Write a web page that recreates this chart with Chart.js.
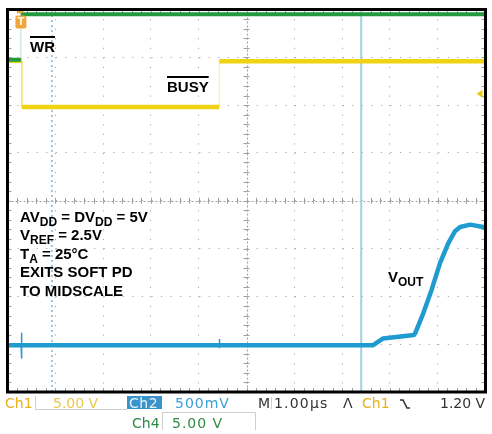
<!DOCTYPE html>
<html>
<head>
<meta charset="utf-8">
<script src="https://cdn.jsdelivr.net/npm/chart.js@4.4.1/dist/chart.umd.min.js"></script>
<style>
html, body { margin: 0; padding: 0; background: #fff; }
#wrap { position: relative; width: 492px; height: 434px; overflow: hidden; }
#scope { position: absolute; left: 0; top: 0; }
.lbl { position: absolute; font-family: "Liberation Sans", Arial, sans-serif; font-weight: bold; font-size: 15px; line-height: 18.5px; color: #000; white-space: nowrap; }
.lbl sub { font-size: 12px; line-height: 0; vertical-align: -4px; }
.ovl { text-decoration: overline; text-decoration-thickness: 1.5px; }
.bar { position: absolute; font-family: "DejaVu Sans", sans-serif; font-size: 14px; line-height: 14px; white-space: nowrap; }
.rule { position: absolute; background: #cfcfcf; }
</style>
</head>
<body>
<div id="wrap">
  <canvas id="scope" width="492" height="434"></canvas>

  <div class="lbl" style="left:30px;top:38px"><span class="ovl">WR</span></div>
  <div class="lbl" style="left:167px;top:78px"><span class="ovl">BUSY</span></div>
  <div class="lbl" style="left:20px;top:207.5px">
    AV<sub>DD</sub> = DV<sub>DD</sub> = 5V<br>
    V<sub>REF</sub> = 2.5V<br>
    T<sub>A</sub> = 25°C<br>
    EXITS SOFT PD<br>
    TO MIDSCALE
  </div>
  <div class="lbl" style="left:388px;top:268px">V<sub>OUT</sub></div>

  <!-- status bar -->
  <div class="rule" style="left:35px;top:396px;width:1px;height:13px"></div>
  <div class="rule" style="left:35px;top:409px;width:92px;height:1px"></div>
  <div class="rule" style="left:162px;top:412px;width:94px;height:1px"></div>
  <div class="rule" style="left:162px;top:412px;width:1px;height:18px"></div>
  <div class="rule" style="left:255px;top:412px;width:1px;height:18px"></div>
  <div class="rule" style="left:271px;top:397px;width:1px;height:12px"></div>

  <div class="bar" style="left:5px;top:396px;color:#e3b21c">Ch1</div>
  <div class="bar" style="left:53px;top:396px;color:#e9c850">5.00 V</div>
  <div style="position:absolute;left:127px;top:396px;width:35px;height:13px;background:#3a93cb"></div>
  <div class="bar" style="left:129px;top:396px;color:#e6f3fb;letter-spacing:0.5px">Ch2</div>
  <div class="bar" style="left:175px;top:396px;color:#3b9fd6;letter-spacing:1px">500mV</div>
  <div class="bar" style="left:258px;top:396px;color:#333">M</div>
  <div class="bar" style="left:274px;top:396px;color:#333;letter-spacing:1.2px">1.00µs</div>
  <div class="bar" style="left:343px;top:396px;color:#333">Λ</div>
  <div class="bar" style="left:362px;top:396px;color:#e3b21c">Ch1</div>
  <svg style="position:absolute;left:399px;top:398px" width="12" height="12"><path d="M1 2 H4 L8 10 H11" fill="none" stroke="#333" stroke-width="1.6"/></svg>
  <div class="bar" style="left:440px;top:396px;color:#333">1.20 V</div>
  <div class="bar" style="left:132px;top:416px;color:#2e8b44">Ch4</div>
  <div class="bar" style="left:172px;top:416px;color:#2e8b44;letter-spacing:1px">5.00 V</div>
</div>

<script>
// time in µs (1 µs/div), level in divisions (0 = bottom graticule line)
const ch4Time = [0, 0.28, 0.28, 10];
const ch4Level = [6.95, 6.95, 7.90, 7.90];

const ch1Time = [0, 0.30, 0.30, 4.43, 4.43, 10];
const ch1Level = [6.93, 6.93, 5.96, 5.96, 6.92, 6.92];

const ch2Time = [0, 0.285, 0.29, 0.295, 0.30, 4.425, 4.43, 4.435, 4.44, 7.65, 7.86, 8.50, 8.53, 8.70, 8.87, 9.05, 9.22, 9.36, 9.47, 9.68, 9.95, 10];
const ch2Level = [0.98, 0.98, 1.23, 0.71, 0.98, 0.98, 1.10, 0.93, 0.98, 0.98, 1.12, 1.19, 1.23, 1.65, 2.13, 2.70, 3.11, 3.36, 3.45, 3.50, 3.45, 3.45];

const cursorTime = 7.40;
const markerTime = 0.93;
const triggerTime = 0.27;
const ch1TrigLevel = 6.24;

function pts(t, v) { return t.map((x, i) => ({ x: x, y: v[i] })); }
function vLine(t) { return [{ x: t, y: 0 }, { x: t, y: 8 }]; }
const steep = ctx => Math.abs(ctx.p1.parsed.x - ctx.p0.parsed.x) < 0.008;
function edge(color, width) {
    return {
        borderColor: ctx => steep(ctx) && color ? color : undefined,
        borderWidth: ctx => steep(ctx) ? width : undefined
    };
}

const scopeDecor = {
    id: 'scopeDecor',
    beforeDatasetsDraw(chart) {
        const { ctx, chartArea: a, scales: { x, y } } = chart;
        const cx = x.getPixelForValue(5), cy = y.getPixelForValue(4);
        ctx.save();
        ctx.strokeStyle = '#a0a0a0';
        ctx.lineWidth = 1;
        // center crosshair
        ctx.setLineDash([2, 2]);
        ctx.beginPath();
        ctx.moveTo(a.left, Math.round(cy) + 0.5); ctx.lineTo(a.right, Math.round(cy) + 0.5);
        ctx.moveTo(Math.round(cx) + 0.5, a.top); ctx.lineTo(Math.round(cx) + 0.5, a.bottom);
        ctx.stroke();
        ctx.setLineDash([]);
        ctx.beginPath();
        for (let i = 1; i < 50; i++) {
            const px = Math.round(x.getPixelForValue(i * 0.2)) + 0.5;
            ctx.moveTo(px, cy - 3); ctx.lineTo(px, cy + 3);
            ctx.moveTo(px, a.top); ctx.lineTo(px, a.top + 4);
            ctx.moveTo(px, a.bottom); ctx.lineTo(px, a.bottom - 4);
        }
        for (let i = 1; i < 40; i++) {
            const py = Math.round(y.getPixelForValue(i * 0.2)) + 0.5;
            ctx.moveTo(cx - 3, py); ctx.lineTo(cx + 3, py);
            ctx.moveTo(a.left, py); ctx.lineTo(a.left + 4, py);
            ctx.moveTo(a.right, py); ctx.lineTo(a.right - 4, py);
        }
        ctx.stroke();
        ctx.restore();
    },
    afterDraw(chart) {
        const { ctx, chartArea: a, scales: { x, y } } = chart;
        ctx.save();
        // trigger position marker
        const tx = x.getPixelForValue(triggerTime);
        ctx.fillStyle = '#f0a63a';
        ctx.beginPath();
        ctx.moveTo(tx - 4, a.top + 1); ctx.lineTo(tx + 4, a.top + 1); ctx.lineTo(tx, a.top + 5);
        ctx.fill();
        ctx.beginPath();
        ctx.roundRect(tx - 5, a.top + 6, 11, 13, 2);
        ctx.fill();
        ctx.fillStyle = '#fff4e0';
        ctx.font = 'bold 10px "DejaVu Sans"';
        ctx.textAlign = 'center';
        ctx.textBaseline = 'middle';
        ctx.fillText('T', tx + 0.5, a.top + 13);
        // ch1 trigger level arrow
        const ly = y.getPixelForValue(ch1TrigLevel);
        ctx.fillStyle = '#e8cc10';
        ctx.beginPath();
        ctx.moveTo(a.right - 9, ly); ctx.lineTo(a.right - 3, ly - 4); ctx.lineTo(a.right - 3, ly + 4);
        ctx.fill();
        // frame
        ctx.strokeStyle = '#000';
        ctx.lineWidth = 3;
        ctx.strokeRect(a.left, a.top, a.right - a.left, a.bottom - a.top);
        ctx.restore();
    }
};

const axisOpts = (max) => ({
    type: 'linear',
    min: 0,
    max: max,
    ticks: { display: false, stepSize: 1 },
    grid: { color: '#a8a8a8', drawTicks: false, lineWidth: 1 },
    border: { display: false, dash: [1.2, 8.36] }
});

new Chart(document.getElementById('scope'), {
    type: 'line',
    data: {
        datasets: [
            { label: 'Ch2', data: pts(ch2Time, ch2Level), borderColor: '#1f9bd0', borderWidth: 4.5, segment: edge(null, 1.5) },
            { label: 'Ch4', data: pts(ch4Time, ch4Level), borderColor: '#22993f', borderWidth: 4, segment: edge('rgba(34,153,63,0.3)', 1) },
            { label: 'Ch1', data: pts(ch1Time, ch1Level), borderColor: '#f0d414', borderWidth: 4.5, segment: edge('rgba(240,212,20,0.45)', 1) },
            { label: 'cursor', data: vLine(cursorTime), borderColor: '#9fd0e6', borderWidth: 2 },
            { label: 'marker', data: vLine(markerTime), borderColor: '#7ab6df', borderWidth: 1.5, borderDash: [2, 3] }
        ]
    },
    options: {
        responsive: false,
        animation: false,
        devicePixelRatio: 1,
        layout: { padding: { left: 7.5, right: 6.5, top: 9.5, bottom: 42 } },
        plugins: { legend: { display: false }, tooltip: { enabled: false } },
        elements: { point: { radius: 0 }, line: { tension: 0, borderJoinStyle: 'round' } },
        scales: { x: axisOpts(10), y: axisOpts(8) }
    },
    plugins: [scopeDecor]
});
</script>
</body>
</html>
